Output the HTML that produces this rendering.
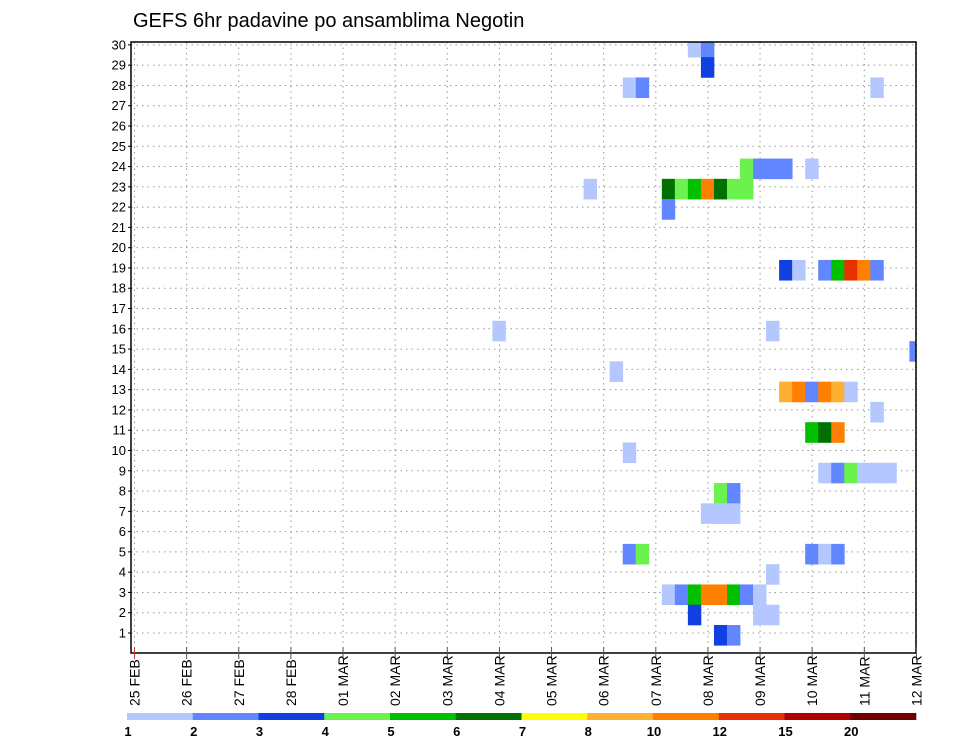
<!DOCTYPE html>
<html><head><meta charset="utf-8"><style>
html,body{margin:0;padding:0;background:#fff;}
svg{display:block;font-family:"Liberation Sans","DejaVu Sans",sans-serif;}
</style></head><body>
<svg id="chart" width="960" height="742" viewBox="0 0 960 742" xmlns="http://www.w3.org/2000/svg">
<text x="133" y="27" font-size="20" fill="#000">GEFS 6hr padavine po ansamblima Negotin</text>
<g id="grid"></g>
<g id="cells"></g>
<rect x="131" y="42" width="785" height="611" fill="none" stroke="#000" stroke-width="1.5"/>
<g id="yaxis"></g>
<g id="xaxis"></g>
<g id="legend"></g>
</svg>
<script>
const dayLabels = ["25 FEB","26 FEB","27 FEB","28 FEB","01 MAR","02 MAR","03 MAR","04 MAR","05 MAR","06 MAR","07 MAR","08 MAR","09 MAR","10 MAR","11 MAR","12 MAR"];
const memberLabels = [1,2,3,4,5,6,7,8,9,10,11,12,13,14,15,16,17,18,19,20,21,22,23,24,25,26,27,28,29,30];
const binLabels = ["1","2","3","4","5","6","7","8","10","12","15","20"];
const binColors = ["#b4c8ff","#6286ff","#1040e0","#6cf24f","#00c000","#007000","#ffff00","#ffb030","#ff8000","#e83000","#b00000","#700000"];
// cells: member row, 6-hour step index from 25 FEB 00Z, precipitation bin
const cellRow  = [30,30,29,28,28,28,24,24,24,24,24,23,23,23,23,23,23,23,23,22,19,19,19,19,19,19,19,16,16,15,14,13,13,13,13,13,13,12,11,11,11,10,9,9,9,9,9,9,8,8,7,7,7,5,5,5,5,5,4,3,3,3,3,3,3,3,3,2,2,2,1,1];
const cellStep = [43,44,44,38,39,57,47,48,49,50,52,35,41,42,43,44,45,46,47,41,50,51,53,54,55,56,57,28,49,60,37,50,51,52,53,54,55,57,52,53,54,38,53,54,55,56,57,58,45,46,44,45,46,38,39,52,53,54,49,41,42,43,44,45,46,47,48,43,48,49,45,46];
const cellBin  = [0,1,2,0,1,0,3,1,1,1,0,0,5,3,4,8,5,3,3,1,2,0,1,4,9,8,1,0,0,1,0,7,8,1,8,7,0,0,4,5,8,0,0,1,3,0,0,0,3,1,0,0,0,1,3,1,0,1,0,0,1,4,8,8,4,1,0,2,0,0,2,1];

const NS="http://www.w3.org/2000/svg";
const X0=134.5, DAY=52.13, STEP=DAY/4, FL=131, FR=916, FT=42, FB=653;
const xDay=d=>X0+d*DAY;
const xStep=k=>X0+k*STEP;
const yRow=r=>633-(r-1)*20.28;
function mk(tag,attrs,parent){const e=document.createElementNS(NS,tag);for(const a in attrs)e.setAttribute(a,attrs[a]);parent.appendChild(e);return e;}

const grid=document.getElementById('grid');
memberLabels.forEach(r=>{
  const l=mk('line',{x1:FL,x2:FR,y1:yRow(r),y2:yRow(r),stroke:'#999','stroke-width':1,'stroke-dasharray':'1.5 4'},grid);
  
  
});
dayLabels.forEach((d,i)=>{
  const l=mk('line',{x1:xDay(i),x2:xDay(i),y1:FT,y2:FB,stroke:'#999','stroke-width':1,'stroke-dasharray':'1.5 4'},grid);
  
  
});

const cells=document.getElementById('cells');
const clip=mk('clipPath',{id:'pc'},cells);
mk('rect',{x:FL,y:FT,width:FR-FL,height:FB-FT},clip);
const cg=mk('g',{'clip-path':'url(#pc)'},cells);
for(let i=0;i<cellRow.length;i++){
  const r=mk('rect',{x:xStep(cellStep[i]-0.5)-0.5,y:yRow(cellRow[i])-8,width:STEP+0.4,height:20.6,fill:binColors[cellBin[i]]},cg);
  
  
}

const ya=document.getElementById('yaxis');
memberLabels.forEach(r=>{
  const t=mk('text',{x:126,y:yRow(r)+4.5,'font-size':13,'text-anchor':'end',fill:'#000'},ya);
  t.textContent=r;
  
  
  mk('line',{x1:FL-3,x2:FL,y1:yRow(r),y2:yRow(r),stroke:'#000'},ya);
});

const xa=document.getElementById('xaxis');
dayLabels.forEach((d,i)=>{
  const x=xDay(i);
  mk('line',{x1:x,x2:x,y1:FB-6,y2:FB+6,stroke:i===0?'#c33':'#555'},xa);
  const t=mk('text',{x:x+5,y:706,'font-size':14,fill:'#000',transform:`rotate(-90 ${x+5} 706)`},xa);
  t.textContent=d;
  
  
});

const lg=document.getElementById('legend');
const LX=127, LW=(916-127)/12;
binColors.forEach((c,i)=>{
  const r=mk('rect',{x:LX+i*LW,y:713,width:LW+0.3,height:7,fill:c},lg);
  
  
});
binLabels.forEach((s,i)=>{
  const t=mk('text',{x:LX+i*LW+1,y:736,'font-size':13,'font-weight':'bold','text-anchor':'middle',fill:'#000'},lg);
  t.textContent=s;
  
  
});
</script>
</body></html>
